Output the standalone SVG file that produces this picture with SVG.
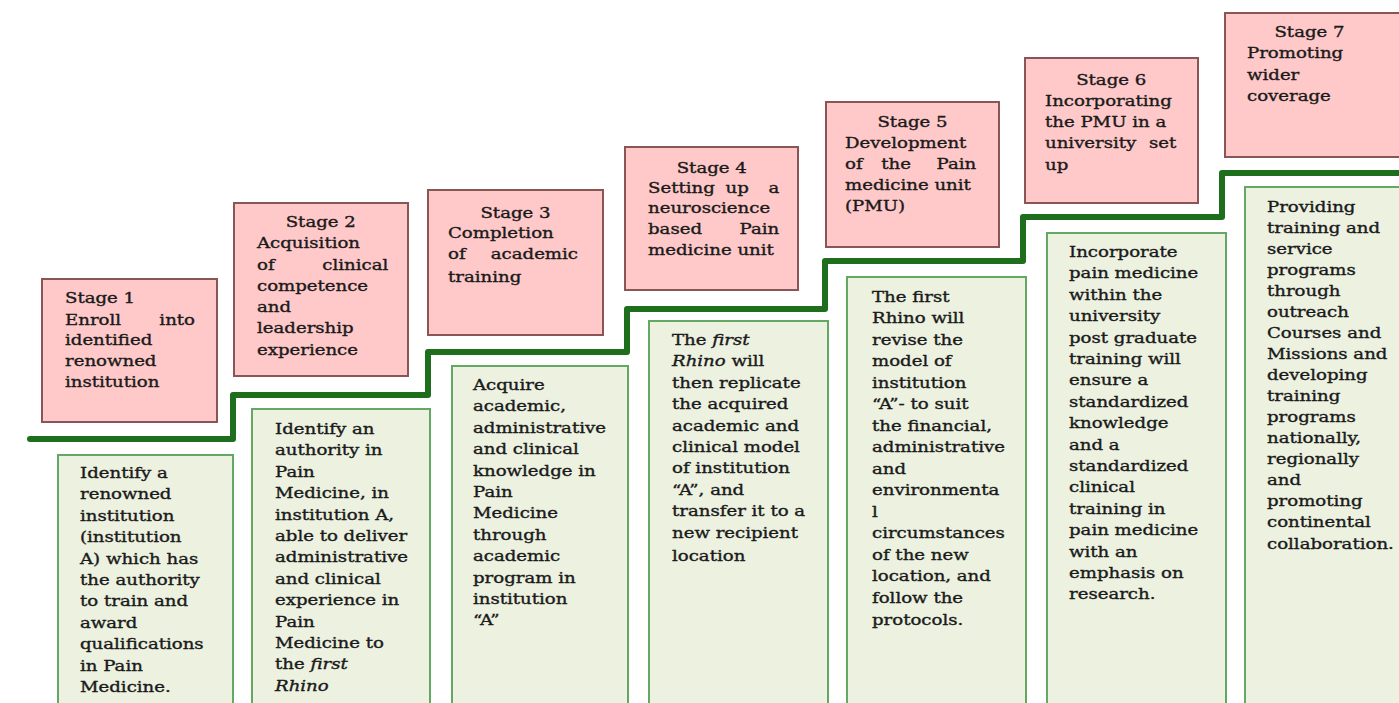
<svg xmlns="http://www.w3.org/2000/svg" width="1399" height="703" viewBox="0 0 1399 703">
<style>
.pink{fill:#ffc9c9;stroke:#8a5555;stroke-width:2}
.green{fill:#ecf1e0;stroke:#63a863;stroke-width:2}
.t{font-family:"DejaVu Serif","Liberation Serif",serif;font-size:14.5px;fill:#1a1a1a;stroke:#1a1a1a;stroke-width:0.35}
.c{text-anchor:middle}
.e{text-anchor:end}
.i{font-style:italic}
.stair{fill:none;stroke:#1e6e1e;stroke-width:6;stroke-linejoin:round;stroke-linecap:round}
</style>
<rect width="1399" height="703" fill="#ffffff"/>
<g id="connectors">
<path class="stair" d="M30,439 H233 V395 H428 V352 H627 V309 H825 V261 H1023 V217 H1222 V173 H1402"/>
</g>
<g id="stage1">
<rect class="pink" x="42" y="279" width="175" height="143"/>
<g class="t" transform="translate(65,0) scale(1.25,1)">
<text x="0" y="303">Stage 1</text>
<text x="0" y="325">Enroll</text><text class="e" x="104" y="325">into</text>
<text x="0" y="345">identified</text>
<text x="0" y="366">renowned</text>
<text x="0" y="387">institution</text>
</g>
</g>
<g id="stage2">
<rect class="pink" x="234" y="203" width="174" height="173"/>
<g class="t" transform="translate(257,0) scale(1.25,1)">
<text class="c" x="51" y="227">Stage 2</text>
<text x="0" y="248">Acquisition</text>
<text x="0" y="270">of</text><text class="e" x="105" y="270">clinical</text>
<text x="0" y="291">competence</text>
<text x="0" y="312">and</text>
<text x="0" y="333">leadership</text>
<text x="0" y="355">experience</text>
</g>
</g>
<g id="stage3">
<rect class="pink" x="428" y="190" width="175" height="145"/>
<g class="t" transform="translate(448,0) scale(1.25,1)">
<text class="c" x="54" y="218">Stage 3</text>
<text x="0" y="238">Completion</text>
<text x="0" y="259">of</text><text class="e" x="104" y="259">academic</text>
<text x="0" y="282">training</text>
</g>
</g>
<g id="stage4">
<rect class="pink" x="625" y="147" width="173" height="143"/>
<g class="t" transform="translate(648,0) scale(1.25,1)">
<text class="c" x="51" y="173">Stage 4</text>
<text x="0" y="193">Setting</text><text x="62" y="193">up</text><text class="e" x="105" y="193">a</text>
<text x="0" y="213">neuroscience</text>
<text x="0" y="234">based</text><text class="e" x="105" y="234">Pain</text>
<text x="0" y="255">medicine unit</text>
</g>
</g>
<g id="stage5">
<rect class="pink" x="826" y="102" width="173" height="145"/>
<g class="t" transform="translate(845,0) scale(1.25,1)">
<text class="c" x="54" y="127">Stage 5</text>
<text x="0" y="148">Development</text>
<text x="0" y="169">of</text><text x="29" y="169">the</text><text class="e" x="105" y="169">Pain</text>
<text x="0" y="190">medicine unit</text>
<text x="0" y="211">(PMU)</text>
</g>
</g>
<g id="stage6">
<rect class="pink" x="1025" y="58" width="173" height="145"/>
<g class="t" transform="translate(1045,0) scale(1.25,1)">
<text class="c" x="53" y="85">Stage 6</text>
<text x="0" y="106">Incorporating</text>
<text x="0" y="127">the PMU in a</text>
<text x="0" y="148">university</text><text class="e" x="105" y="148">set</text>
<text x="0" y="170">up</text>
</g>
</g>
<g id="stage7">
<rect class="pink" x="1225" y="13" width="180" height="144"/>
<g class="t" transform="translate(1247,0) scale(1.25,1)">
<text class="c" x="50" y="37">Stage 7</text>
<text x="0" y="58">Promoting</text>
<text x="0" y="80">wider</text>
<text x="0" y="101">coverage</text>
</g>
</g>
<g id="desc1">
<rect class="green" x="58" y="455" width="175" height="260"/>
<g class="t" transform="translate(80,0) scale(1.25,1)">
<text x="0" y="478">Identify a</text>
<text x="0" y="499.4">renowned</text>
<text x="0" y="520.8">institution</text>
<text x="0" y="542.2">(institution</text>
<text x="0" y="563.6">A) which has</text>
<text x="0" y="585">the authority</text>
<text x="0" y="606.4">to train and</text>
<text x="0" y="627.8">award</text>
<text x="0" y="649.2">qualifications</text>
<text x="0" y="670.6">in Pain</text>
<text x="0" y="692">Medicine.</text>
</g>
</g>
<g id="desc2">
<rect class="green" x="252" y="409" width="178" height="306"/>
<g class="t" transform="translate(275,0) scale(1.25,1)">
<text x="0" y="434">Identify an</text>
<text x="0" y="455.4">authority in</text>
<text x="0" y="476.8">Pain</text>
<text x="0" y="498.2">Medicine, in</text>
<text x="0" y="519.6">institution A,</text>
<text x="0" y="541">able to deliver</text>
<text x="0" y="562.4">administrative</text>
<text x="0" y="583.8">and clinical</text>
<text x="0" y="605.2">experience in</text>
<text x="0" y="626.6">Pain</text>
<text x="0" y="648">Medicine to</text>
<text x="0" y="669.4">the <tspan class="i">first</tspan></text>
<text class="i" x="0" y="690.8">Rhino</text>
</g>
</g>
<g id="desc3">
<rect class="green" x="452" y="366" width="176" height="349"/>
<g class="t" transform="translate(473,0) scale(1.25,1)">
<text x="0" y="390">Acquire</text>
<text x="0" y="411.4">academic,</text>
<text x="0" y="432.8">administrative</text>
<text x="0" y="454.2">and clinical</text>
<text x="0" y="475.6">knowledge in</text>
<text x="0" y="497">Pain</text>
<text x="0" y="518.4">Medicine</text>
<text x="0" y="539.8">through</text>
<text x="0" y="561.2">academic</text>
<text x="0" y="582.6">program in</text>
<text x="0" y="604">institution</text>
<text x="0" y="625.4">“A”</text>
</g>
</g>
<g id="desc4">
<rect class="green" x="649" y="321" width="179" height="394"/>
<g class="t" transform="translate(672,0) scale(1.25,1)">
<text x="0" y="345">The <tspan class="i">first</tspan></text>
<text x="0" y="366.4"><tspan class="i">Rhino</tspan> will</text>
<text x="0" y="387.8">then replicate</text>
<text x="0" y="409.2">the acquired</text>
<text x="0" y="430.6">academic and</text>
<text x="0" y="452">clinical model</text>
<text x="0" y="473.4">of institution</text>
<text x="0" y="494.8">“A”, and</text>
<text x="0" y="516.2">transfer it to a</text>
<text x="0" y="537.6">new recipient</text>
<text x="0" y="561">location</text>
</g>
</g>
<g id="desc5">
<rect class="green" x="847" y="277" width="179" height="438"/>
<g class="t" transform="translate(872,0) scale(1.25,1)">
<text x="0" y="302">The first</text>
<text x="0" y="323.5">Rhino will</text>
<text x="0" y="345">revise the</text>
<text x="0" y="366.5">model of</text>
<text x="0" y="388">institution</text>
<text x="0" y="409.5">“A”- to suit</text>
<text x="0" y="431">the financial,</text>
<text x="0" y="452.5">administrative</text>
<text x="0" y="474">and</text>
<text x="0" y="495.5">environmenta</text>
<text x="0" y="517">l</text>
<text x="0" y="538.5">circumstances</text>
<text x="0" y="560">of the new</text>
<text x="0" y="581.5">location, and</text>
<text x="0" y="603">follow the</text>
<text x="0" y="625">protocols.</text>
</g>
</g>
<g id="desc6">
<rect class="green" x="1047" y="233" width="179" height="482"/>
<g class="t" transform="translate(1069,0) scale(1.25,1)">
<text x="0" y="257">Incorporate</text>
<text x="0" y="278.4">pain medicine</text>
<text x="0" y="299.8">within the</text>
<text x="0" y="321.2">university</text>
<text x="0" y="342.6">post graduate</text>
<text x="0" y="364">training will</text>
<text x="0" y="385.4">ensure a</text>
<text x="0" y="406.8">standardized</text>
<text x="0" y="428.2">knowledge</text>
<text x="0" y="449.6">and a</text>
<text x="0" y="471">standardized</text>
<text x="0" y="492.4">clinical</text>
<text x="0" y="513.8">training in</text>
<text x="0" y="535.2">pain medicine</text>
<text x="0" y="556.6">with an</text>
<text x="0" y="578">emphasis on</text>
<text x="0" y="599.4">research.</text>
</g>
</g>
<g id="desc7">
<rect class="green" x="1245" y="187" width="170" height="528"/>
<g class="t" transform="translate(1267,0) scale(1.25,1)">
<text x="0" y="212">Providing</text>
<text x="0" y="233">training and</text>
<text x="0" y="254">service</text>
<text x="0" y="275">programs</text>
<text x="0" y="296">through</text>
<text x="0" y="317">outreach</text>
<text x="0" y="338">Courses and</text>
<text x="0" y="359">Missions and</text>
<text x="0" y="380">developing</text>
<text x="0" y="401">training</text>
<text x="0" y="422">programs</text>
<text x="0" y="443">nationally,</text>
<text x="0" y="464">regionally</text>
<text x="0" y="485">and</text>
<text x="0" y="506">promoting</text>
<text x="0" y="527">continental</text>
<text x="0" y="549">collaboration.</text>
</g>
</g>
</svg>
